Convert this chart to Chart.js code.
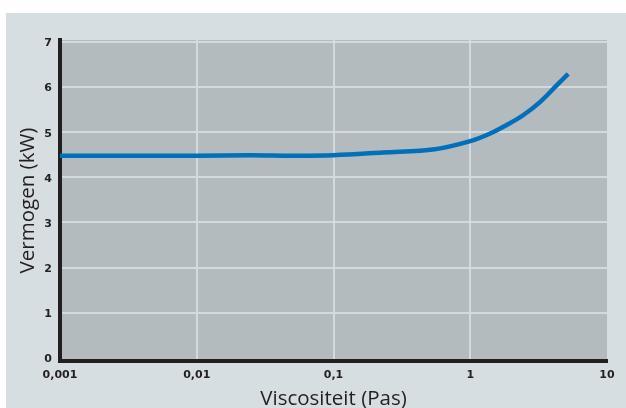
<!DOCTYPE html>
<html>
<head>
<meta charset="utf-8">
<script src="https://cdn.jsdelivr.net/npm/chart.js@4.4.1/dist/chart.umd.min.js"></script>
<style>
  html, body { margin: 0; padding: 0; background: #ffffff; }
  #wrap { width: 626px; height: 408px; }
</style>
</head>
<body>
<div id="wrap"><canvas id="chart" width="626" height="408"></canvas></div>
<script>
// Viscosity (Pa·s) against power (kW)
const viscosity = [0.001, 0.003, 0.01, 0.025, 0.05, 0.1, 0.23, 0.55, 1, 1.4, 1.85, 2.45, 3.25, 4.3, 5.2];
const power     = [4.48, 4.48, 4.48, 4.49, 4.48, 4.49, 4.55, 4.62, 4.80, 4.97, 5.16, 5.38, 5.67, 6.04, 6.29];

const xTicks = [0.001, 0.01, 0.1, 1, 10];
const xTickLabels = ['0,001', '0,01', '0,1', '1', '10'];
const yTicks = [0, 1, 2, 3, 4, 5, 6, 7];

const xTitle = 'Viscositeit (Pas)';
const yTitle = 'Vermogen (kW)';

const INK = '#231f20';
const GRID = '#d2dadd';

// Panel and plot-area fills
const backdrop = {
  id: 'backdrop',
  beforeDraw(chart) {
    const { ctx, chartArea: a } = chart;
    ctx.save();
    ctx.fillStyle = '#d7dee1';
    ctx.fillRect(6, 13, chart.width - 6, chart.height - 13);
    ctx.fillStyle = '#b4bbbe';
    ctx.fillRect(a.left, a.top, a.right - a.left, a.bottom - a.top);
    ctx.restore();
  }
};

new Chart(document.getElementById('chart'), {
  type: 'line',
  data: {
    datasets: [{
      data: viscosity.map((v, i) => ({ x: v, y: power[i] })),
      borderColor: '#0070bb',
      borderWidth: 4.5,
      pointRadius: 0,
      tension: 0.35,
      fill: false
    }]
  },
  options: {
    responsive: false,
    animation: false,
    layout: { padding: { left: 0, top: 40, right: 19, bottom: 0 } },
    plugins: { legend: { display: false }, tooltip: { enabled: false } },
    scales: {
      x: {
        type: 'logarithmic',
        min: 0.001,
        max: 10,
        afterFit(scale) { scale.height = 47; },
        afterBuildTicks(scale) { scale.ticks = xTicks.map(v => ({ value: v })); },
        ticks: {
          autoSkip: false,
          maxRotation: 0,
          padding: 8,
          color: INK,
          font: { family: 'DejaVu Sans', size: 11, weight: 'bold' },
          callback(value) {
            const i = xTicks.findIndex(t => Math.abs(t - value) < value * 1e-6);
            return i >= 0 ? xTickLabels[i] : '';
          }
        },
        grid: {
          drawTicks: false,
          lineWidth: 2,
          color(ctx) {
            const v = ctx.tick && ctx.tick.value;
            return (v === xTicks[0] || v === xTicks[xTicks.length - 1]) ? 'rgba(0,0,0,0)' : GRID;
          }
        },
        border: { display: true, color: INK, width: 4 },
        title: {
          display: true,
          text: xTitle,
          color: INK,
          font: { family: 'Open Sans', size: 20.5, lineHeight: 0.9 },
          padding: { top: 0, bottom: 0 }
        }
      },
      y: {
        min: -0.066,
        max: 7.04,
        afterFit(scale) { scale.width = 60; },
        afterBuildTicks(scale) { scale.ticks = yTicks.map(v => ({ value: v })); },
        ticks: {
          padding: 8,
          labelOffset: 1.5,
          color: INK,
          font: { family: 'DejaVu Sans', size: 11, weight: 'bold' }
        },
        grid: {
          drawTicks: false,
          lineWidth: 2,
          color(ctx) {
            return (ctx.tick && ctx.tick.value === 0) ? 'rgba(0,0,0,0)' : GRID;
          }
        },
        border: { display: true, color: INK, width: 4 },
        title: {
          display: true,
          text: yTitle,
          color: INK,
          font: { family: 'Open Sans', size: 20.5, lineHeight: 0.9 },
          padding: { top: 19, bottom: 0 }
        }
      }
    }
  },
  plugins: [backdrop]
});
</script>
</body>
</html>
